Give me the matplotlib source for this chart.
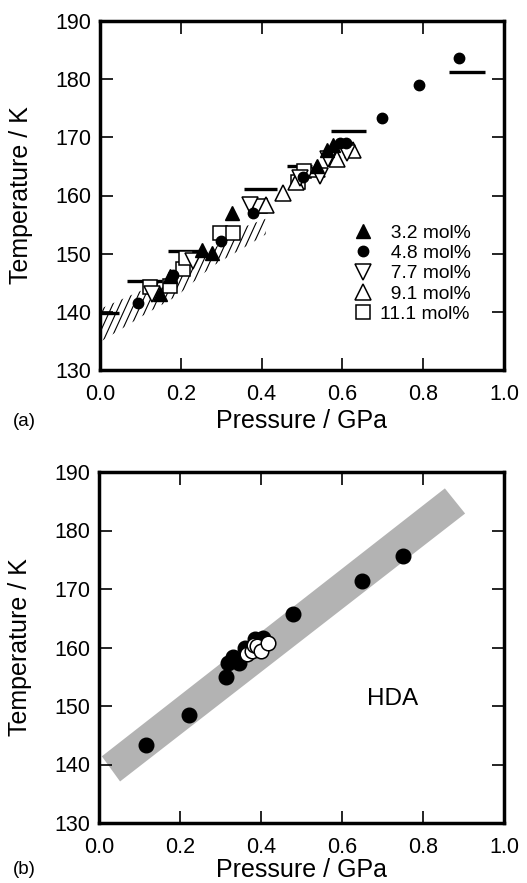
import numpy as np
import matplotlib
matplotlib.use("Agg")
import matplotlib.pyplot as plt
from matplotlib.patches import Polygon
from matplotlib.collections import LineCollection

plt.rcParams['font.family'] = ['Liberation Sans', 'DejaVu Sans']

# ---------------- Panel (a) data ----------------
p_32 = [0.149, 0.173, 0.252, 0.276, 0.326, 0.536, 0.561, 0.577]
t_32 = [143.0, 146.1, 150.7, 150.2, 157.0, 165.0, 167.9, 168.7]

p_48 = [0.095, 0.181, 0.300, 0.379, 0.503, 0.594, 0.610, 0.698, 0.790, 0.888]
t_48 = [141.6, 146.4, 152.1, 157.0, 163.1, 169.0, 169.0, 173.4, 179.0, 183.7]

p_77 = [0.128, 0.231, 0.372, 0.495, 0.545, 0.565, 0.611]
t_77 = [143.0, 148.7, 158.3, 163.0, 163.4, 166.2, 167.3]

p_91 = [0.410, 0.453, 0.485, 0.537, 0.586, 0.627]
t_91 = [158.3, 160.5, 162.3, 164.6, 166.2, 167.9]

p_111 = [0.124, 0.173, 0.206, 0.212, 0.297, 0.330, 0.396, 0.490, 0.505]
t_111 = [144.2, 144.4, 147.3, 149.2, 153.6, 153.6, 158.2, 162.4, 164.2]

labels_a = ["3.2 mol%", "4.8 mol%", "7.7 mol%", "9.1 mol%", "11.1 mol%"]

bar_p0 = [0.0, 0.066, 0.168, 0.357, 0.462, 0.571, 0.864]
bar_p1 = [0.048, 0.153, 0.260, 0.438, 0.524, 0.658, 0.953]
bar_t = [139.8, 145.3, 150.4, 161.1, 165.1, 171.1, 181.3]

hatch_p = [0.0, 0.11, 0.19, 0.277, 0.36, 0.41]
hatch_lo = [134.8, 139.5, 142.7, 147.8, 151.2, 153.3]
hatch_hi = [140.5, 143.9, 146.8, 150.7, 154.7, 156.0]

# ---------------- Panel (b) data ----------------
pb_fill = [0.115, 0.222, 0.313, 0.319, 0.331, 0.346, 0.360, 0.385, 0.405, 0.480, 0.649, 0.751]
tb_fill = [143.4, 148.5, 155.0, 157.4, 158.3, 157.4, 160.0, 161.4, 161.7, 165.8, 171.4, 175.6]
pb_open = [0.365, 0.377, 0.383, 0.389, 0.400, 0.418]
tb_open = [158.9, 159.4, 160.5, 160.3, 159.4, 160.8]

band_p = [0.007, 0.052, 0.904, 0.854]
band_t = [141.4, 137.1, 182.9, 187.2]

xticks = [0.0, 0.2, 0.4, 0.6, 0.8, 1.0]
yticks = [130, 140, 150, 160, 170, 180, 190]

W, H = 527, 883
fig = plt.figure(figsize=(W / 100, H / 100), dpi=100)

ax_a = fig.add_axes([100 / W, 1 - 370 / H, 404 / W, 349 / H])
ax_b = fig.add_axes([99 / W, 1 - 823 / H, 405 / W, 351 / H])

TICKFS = 15.5
LABELFS = 18


def style(ax):
    ax.set_xlim(0, 1.0)
    ax.set_ylim(130, 190)
    ax.set_xticks(xticks)
    ax.set_yticks(yticks)
    ax.set_xticklabels([f"{v:.1f}" for v in xticks])
    ax.set_yticklabels([str(v) for v in yticks])
    for s in ax.spines.values():
        s.set_linewidth(2.5)
    ax.tick_params(direction='in', top=True, right=True, length=9, width=1.2,
                   labelsize=TICKFS)
    ax.tick_params(axis='x', pad=10)
    ax.tick_params(axis='y', pad=6)
    ax.set_xlabel("Pressure / GPa", fontsize=LABELFS)
    ax.set_ylabel("Temperature / K", fontsize=LABELFS)


style(ax_a)
style(ax_b)

# ---- panel a ----
# hatched band
poly_pts = list(zip(hatch_p, hatch_lo)) + list(zip(hatch_p[::-1], hatch_hi[::-1]))
poly = Polygon(poly_pts, closed=True, facecolor='none', edgecolor='none',
               transform=ax_a.transData)
ax_a.add_patch(poly)
slope = 152.0   # K per GPa of hatch strokes
spacing = 0.0175
segs = []
for p0 in np.arange(-0.2, 0.5, spacing):
    segs.append([(p0, 130.0), (p0 + 60.0 / slope, 190.0)])
lc = LineCollection(segs, colors='black', linewidths=0.8, zorder=1)
ax_a.add_collection(lc)
lc.set_clip_path(poly)

# horizontal bars
ax_a.hlines(bar_t, bar_p0, bar_p1, colors='black', linewidth=2.4, zorder=2)

h111, = ax_a.plot(p_111, t_111, 's', ms=10.5, mfc='white', mec='black', mew=1.1,
                  ls='none', zorder=3)
h91, = ax_a.plot(p_91, t_91, '^', ms=11, mfc='white', mec='black', mew=1.1,
                 ls='none', zorder=3)
h77, = ax_a.plot(p_77, t_77, 'v', ms=11, mfc='white', mec='black', mew=1.1,
                 ls='none', zorder=3)
h48, = ax_a.plot(p_48, t_48, 'o', ms=7.5, mfc='black', mec='black',
                 ls='none', zorder=4)
h32, = ax_a.plot(p_32, t_32, '^', ms=9.8, mfc='black', mec='black',
                 ls='none', zorder=4)

pad_labels = [("  " + l if len(l.split()[0]) == 3 else l) for l in labels_a]
leg = ax_a.legend([h32, h48, h77, h91, h111], pad_labels, loc='upper left',
                  bbox_to_anchor=(0.627, 0.418), frameon=False, fontsize=13.9,
                  borderpad=0, borderaxespad=0, handlelength=1.0,
                  handletextpad=0.37, labelspacing=0.145, numpoints=1)

# ---- panel b ----
ax_b.add_patch(Polygon(list(zip(band_p, band_t)), closed=True,
                       facecolor='#b3b3b3', edgecolor='none', zorder=1))
ax_b.plot(pb_fill, tb_fill, 'o', ms=10.5, mfc='black', mec='black',
          ls='none', zorder=3)
ax_b.plot(pb_open, tb_open, 'o', ms=10.5, mfc='white', mec='black', mew=1.1,
          ls='none', zorder=4)
ax_b.text(0.726, 151.2, "HDA", fontsize=17.5, ha='center', va='center')

# label positions
ax_a.yaxis.set_label_coords(-0.166, 0.5)
ax_b.yaxis.set_label_coords(-0.166, 0.5)
ax_a.xaxis.set_label_coords(0.5, -0.112)
ax_b.xaxis.set_label_coords(0.5, -0.100)

fig.text(13 / W, 1 - 421 / H, "(a)", fontsize=13.5, va='center', ha='left')
fig.text(13 / W, 1 - 870 / H, "(b)", fontsize=13.5, va='center', ha='left')

fig.savefig("out.png", dpi=100)
